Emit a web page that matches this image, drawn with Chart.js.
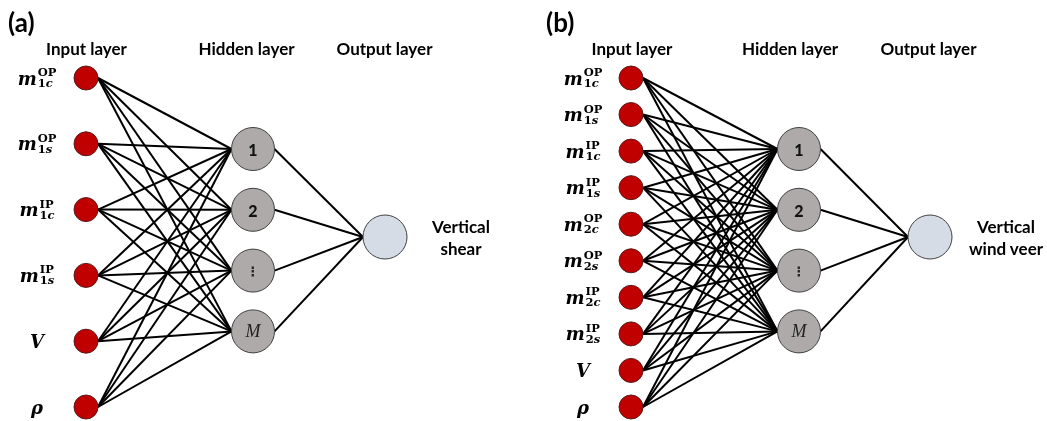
<!DOCTYPE html>
<html>
<head>
<meta charset="utf-8">
<script src="https://cdn.jsdelivr.net/npm/chart.js@4"></script>
<style>
  html, body { margin: 0; padding: 0; background: #fff; }
  #wrap { position: relative; width: 1047px; height: 421px; overflow: hidden; }
  #net { position: absolute; left: 0; top: 0; }
  .lbl { position: absolute; transform: translate(-50%, -50%); white-space: nowrap; color: #000; }
  .tag { font-family: Lato, sans-serif; font-weight: bold; font-size: 26px; transform: translate(0, -50%); }
  .title { font-family: Lato, sans-serif; font-weight: bold; font-size: 17px; }
  .out { font-family: Lato, sans-serif; font-weight: bold; font-size: 17px; line-height: 22px; text-align: center; }
  .node { font-family: Lato, sans-serif; font-weight: 900; font-size: 16px; color: #111; }
  .node.dots { font-family: 'DejaVu Sans', sans-serif; font-size: 13px; font-weight: bold; color: #222; }
  .node.it { font-family: 'Liberation Serif', serif; font-weight: normal; font-style: italic; font-size: 18px; color: #222; }
  .ml { display: inline-flex; align-items: center; font-family: 'DejaVu Serif', serif; font-weight: bold; }
  .ml .base { font-style: italic; font-size: 18px; }
  .ml .ss { display: inline-flex; flex-direction: column; font-size: 11.5px; line-height: 11px; margin-left: 1px; }
  .ml .ss i { font-style: italic; }
</style>
</head>
<body>
<div id="wrap">
  <canvas id="net" width="1047" height="421"></canvas>
</div>
<script>
// ---- dữ liệu của sơ đồ ----
const panelTags = ['(a)', '(b)'];
const layerTitles = ['Input layer', 'Hidden layer', 'Output layer'];

// đầu vào (a)
const inputBaseA = ['m', 'm', 'm', 'm', 'V', 'ρ'];
const inputSupA = ['OP', 'OP', 'IP', 'IP', '', ''];
const inputSubA = ['1c', '1s', '1c', '1s', '', ''];

// đầu vào (b)
const inputBaseB = ['m', 'm', 'm', 'm', 'm', 'm', 'm', 'm', 'V', 'ρ'];
const inputSupB = ['OP', 'OP', 'IP', 'IP', 'OP', 'OP', 'IP', 'IP', '', ''];
const inputSubB = ['1c', '1s', '1c', '1s', '2c', '2s', '2c', '2s', '', ''];

const hiddenLabels = ['1', '2', '⋮', 'M'];
const outputLabelA = ['Vertical', 'shear'];
const outputLabelB = ['Vertical', 'wind veer'];

// ---- bố cục ----
const W = 1047, H = 421;
const R_IN = 12, R_HID = 21.5, R_OUT = 22;
const panels = [
    { tag: panelTags[0], tagX: 8, inX: 86, hidX: 253, outX: 385, outY: 237, labX: 37,
      titleX: [86.5, 246.5, 384.5],
      base: inputBaseA, sup: inputSupA, sub: inputSubA, outLabel: outputLabelA },
    { tag: panelTags[1], tagX: 546, inX: 631, hidX: 799, outX: 930, outY: 237, labX: 583,
      titleX: [632, 790, 928.5],
      base: inputBaseB, sup: inputSupB, sub: inputSubB, outLabel: outputLabelB }
];
const IN_TOP = 78, IN_BOT = 407;
const HID_TOP = 149, HID_STEP = 60.8;

function inputYs(n) {
    const ys = [];
    for (let i = 0; i < n; i++) ys.push(IN_TOP + (IN_BOT - IN_TOP) * i / (n - 1));
    return ys;
}

const datasets = [];
panels.forEach(p => {
    const iy = inputYs(p.base.length);
    const hy = hiddenLabels.map((_, k) => HID_TOP + HID_STEP * k);
    p.iy = iy; p.hy = hy;

    // các nút
    datasets.push({
        data: iy.map(y => ({ x: p.inX, y: y })),
        pointRadius: R_IN, pointBackgroundColor: '#c00000', pointBorderColor: '#5b1a1a',
        pointBorderWidth: 1, order: 0
    });
    datasets.push({
        data: hy.map(y => ({ x: p.hidX, y: y })),
        pointRadius: R_HID, pointBackgroundColor: '#aeaaaa', pointBorderColor: '#404040',
        pointBorderWidth: 1, order: 0
    });
    datasets.push({
        data: [{ x: p.outX, y: p.outY }],
        pointRadius: R_OUT, pointBackgroundColor: '#d6dce5', pointBorderColor: '#404040',
        pointBorderWidth: 1, order: 0
    });

    // các cạnh: input -> hidden
    iy.forEach(y1 => {
        hy.forEach(y2 => {
            datasets.push({
                data: [{ x: p.inX + R_IN, y: y1 }, { x: p.hidX - R_HID, y: y2 }],
                showLine: true, borderColor: '#000', borderWidth: 2, pointRadius: 0, order: 1
            });
        });
    });
    // hidden -> output
    hy.forEach(y2 => {
        datasets.push({
            data: [{ x: p.hidX + R_HID, y: y2 }, { x: p.outX - R_OUT, y: p.outY }],
            showLine: true, borderColor: '#000', borderWidth: 2, pointRadius: 0, order: 1
        });
    });
});

const chart = new Chart(document.getElementById('net').getContext('2d'), {
    type: 'scatter',
    data: { datasets: datasets },
    options: {
        responsive: false,
        animation: false,
        devicePixelRatio: 1,
        events: [],
        layout: { padding: 0, autoPadding: false },
        plugins: { legend: { display: false }, tooltip: { enabled: false } },
        scales: {
            x: { type: 'linear', min: 0, max: W, display: false },
            y: { type: 'linear', min: 0, max: H, reverse: true, display: false }
        }
    }
});

// ---- chữ (HTML đặt theo thang đo của chart) ----
const wrap = document.getElementById('wrap');
const sx = v => chart.scales.x.getPixelForValue(v);
const sy = v => chart.scales.y.getPixelForValue(v);

function addLabel(cls, html, x, y) {
    const d = document.createElement('div');
    d.className = 'lbl ' + cls;
    d.innerHTML = html;
    d.style.left = x + 'px';
    d.style.top = y + 'px';
    wrap.appendChild(d);
}

function subHtml(s) {
    // chữ số đứng, chữ cái nghiêng
    return s.replace(/([a-z])/g, '<i>$1</i>');
}

panels.forEach(p => {
    addLabel('tag', p.tag, p.tagX, 22);
    p.titleX.forEach((x, k) => addLabel('title', layerTitles[k], sx(x), 48));

    p.base.forEach((b, i) => {
        let html = '<span class="ml"><span class="base">' + b + '</span>';
        if (p.sup[i]) {
            html += '<span class="ss"><span>' + p.sup[i] + '</span><span>' + subHtml(p.sub[i]) + '</span></span>';
        }
        html += '</span>';
        addLabel('', html, sx(p.labX), sy(p.iy[i]));
    });

    hiddenLabels.forEach((t, k) => {
        const cls = t === 'M' ? 'node it' : (t === '⋮' ? 'node dots' : 'node');
        addLabel(cls, t, sx(p.hidX), sy(p.hy[k]));
    });

    addLabel('out', p.outLabel.join('<br>'), sx(p.outX + 76), sy(p.outY + 1));
});
</script>
</body>
</html>
